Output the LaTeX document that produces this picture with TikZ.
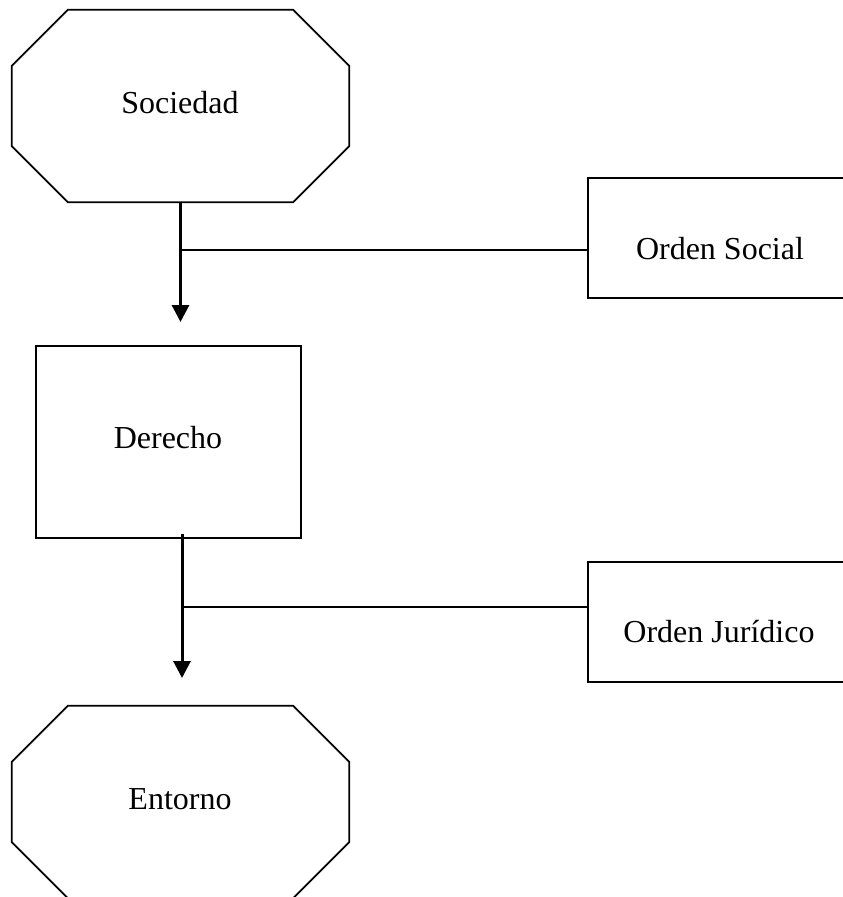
\documentclass[tikz,border=0pt]{standalone}
\usepackage{fontspec}
\setmainfont{Liberation Serif}
\usetikzlibrary{arrows.meta}
\begin{document}
\begin{tikzpicture}[x=1pt,y=-1pt,
  frame/.style={draw, line width=1.8pt, inner sep=0pt},
  ghost/.style={inner sep=0pt},
  octline/.style={line width=1.8pt, line join=miter},
  lbl/.style={font=\fontsize{32}{38}\selectfont, anchor=base, inner sep=0pt},
  flow/.style={line width=3pt, -{Triangle[width=17pt,length=17pt]}},
  branch/.style={line width=1.8pt}]
\useasboundingbox (0,0) rectangle (843,897);

% Sociedad octagon
\node[ghost, minimum width=337pt, minimum height=192pt] (soc) at (180.5,106) {};
\draw[octline] ([xshift=56pt]soc.north west) -- ([xshift=-56pt]soc.north east)
  -- ([yshift=-56pt]soc.north east) -- ([yshift=56pt]soc.south east)
  -- ([xshift=-56pt]soc.south east) -- ([xshift=56pt]soc.south west)
  -- ([yshift=56pt]soc.south west) -- ([yshift=-56pt]soc.north west) -- cycle;
\node[lbl] (soct) at (180,113) {Sociedad};

% Entorno octagon
\node[ghost, minimum width=337pt, minimum height=192pt] (ent) at (180.5,802) {};
\draw[octline] ([xshift=56pt]ent.north west) -- ([xshift=-56pt]ent.north east)
  -- ([yshift=-56pt]ent.north east) -- ([yshift=56pt]ent.south east)
  -- ([xshift=-56pt]ent.south east) -- ([xshift=56pt]ent.south west)
  -- ([yshift=56pt]ent.south west) -- ([yshift=-56pt]ent.north west) -- cycle;
\node[lbl] (entt) at (180,809) {Entorno};

% Derecho box
\node[frame, minimum width=265pt, minimum height=192pt] (der) at (168.5,442) {};
\node[lbl] (dert) at (168,448) {Derecho};

% Orden Social box
\node[frame, minimum width=264pt, minimum height=120pt] (os) at (720,238) {};
\node[lbl] (ost) at (720,259) {Orden Social};

% Orden Juridico box
\node[frame, minimum width=264pt, minimum height=120pt] (oj) at (720,622) {};
\node[lbl] (ojt) at (719,642) {Orden Jurídico};

% connectors
\coordinate (a1) at (180.5,322);
\coordinate (b1) at (180.5,250);
\draw[flow] (soc.south) -- (a1);
\draw[branch] (b1) -- (b1 -| os.west);

\coordinate (s2) at (182,534);
\coordinate (a2) at (182,678);
\coordinate (b2) at (182,607);
\draw[flow] (s2) -- (a2);
\draw[branch] (b2) -- (b2 -| oj.west);
\end{tikzpicture}
\end{document}
